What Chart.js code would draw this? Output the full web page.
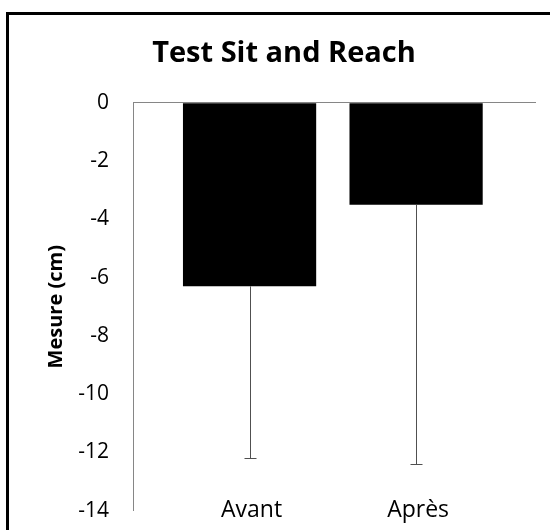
<!DOCTYPE html>
<html>
<head>
<meta charset="utf-8">
<script src="https://cdn.jsdelivr.net/npm/chart.js@4/dist/chart.umd.min.js"></script>
<style>
  html, body { margin: 0; padding: 0; background: #fff; }
  #wrap { position: relative; width: 550px; height: 530px; overflow: hidden; }
  #c { position: absolute; left: 0; top: 0; }
  #frame { position: absolute; left: 6px; top: 12px; width: 600px; height: 600px;
           border-top: 3px solid #000; border-left: 3px solid #000; pointer-events: none; }
</style>
</head>
<body>
<div id="wrap">
  <canvas id="c" width="550" height="530"></canvas>
  <div id="frame"></div>
</div>
<script>
const categories = ['Avant', 'Après'];
const means = [-6.3, -3.5];
const errMinus = [5.9, 8.9];
const yTicks = [-14, -12, -10, -8, -6, -4, -2, 0];
const chartTitle = 'Test Sit and Reach';
const yTitle = 'Mesure (cm)';

const FONT = '"Open Sans"';

const errorBars = {
  id: 'errorBars',
  afterDatasetsDraw(chart) {
    const ctx = chart.ctx;
    const xs = chart.scales.x, ys = chart.scales.y;
    ctx.save();
    ctx.strokeStyle = '#505050';
    ctx.lineWidth = 1;
    means.forEach((m, i) => {
      const x = Math.round(xs.getPixelForValue(i + 1)) + 0.5;
      const y1 = ys.getPixelForValue(m);
      const y2 = Math.round(ys.getPixelForValue(m - errMinus[i])) + 0.5;
      ctx.beginPath();
      ctx.moveTo(x, y1);
      ctx.lineTo(x, y2);
      ctx.moveTo(x - 6, y2);
      ctx.lineTo(x + 6, y2);
      ctx.stroke();
    });
    ctx.restore();
  }
};

new Chart(document.getElementById('c'), {
  type: 'bar',
  data: {
    datasets: [{
      data: categories.map((c, i) => ({ x: i + 1, y: means[i] })),
      backgroundColor: '#000',
      borderWidth: 0,
      categoryPercentage: 0.8,
      barPercentage: 1
    }]
  },
  options: {
    responsive: false,
    animation: false,
    devicePixelRatio: 1,
    layout: { padding: { left: 32, right: 14, top: 0, bottom: 0 } },
    plugins: {
      legend: { display: false },
      tooltip: { enabled: false },
      title: {
        display: true,
        text: chartTitle,
        color: '#000',
        font: { family: FONT, size: 29, weight: 'bold', lineHeight: 1.2 },
        padding: { top: 36, bottom: 32 }
      }
    },
    scales: {
      x: {
        type: 'linear',
        offset: false,
        min: 0.3,
        max: 2.72,
        grid: { display: false, offset: false },
        border: { display: false },
        afterBuildTicks(s) { s.ticks = categories.map((c, i) => ({ value: i + 1 })); },
        afterFit(s) { s.height = 19.3; s.paddingLeft = 0; s.paddingRight = 0; },
        ticks: {
          mirror: true,
          padding: -13.4,
          labelOffset: 2,
          color: '#000',
          font: { family: FONT, size: 23, lineHeight: 1.2 },
          callback: (v) => categories[v - 1]
        }
      },
      y: {
        min: -14,
        max: 0,
        afterBuildTicks(s) { s.ticks = yTicks.map(v => ({ value: v })); },
        afterFit(s) { s.width = 101; s.paddingTop = 0; s.paddingBottom = 0; },
        grid: {
          drawTicks: false,
          color: (c) => (c.tick && c.tick.value === 0 ? '#868686' : 'rgba(0,0,0,0)'),
          lineWidth: 1
        },
        border: { display: true, color: '#868686', width: 1 },
        ticks: {
          padding: 24,
          color: '#000',
          font: { family: FONT, size: 21, lineHeight: 1.2 }
        },
        title: {
          display: true,
          text: yTitle,
          color: '#000',
          font: { family: FONT, size: 20, weight: 'bold', lineHeight: 1.2 },
          padding: { top: 12, bottom: 0 }
        }
      }
    }
  },
  plugins: [errorBars]
});
</script>
</body>
</html>
